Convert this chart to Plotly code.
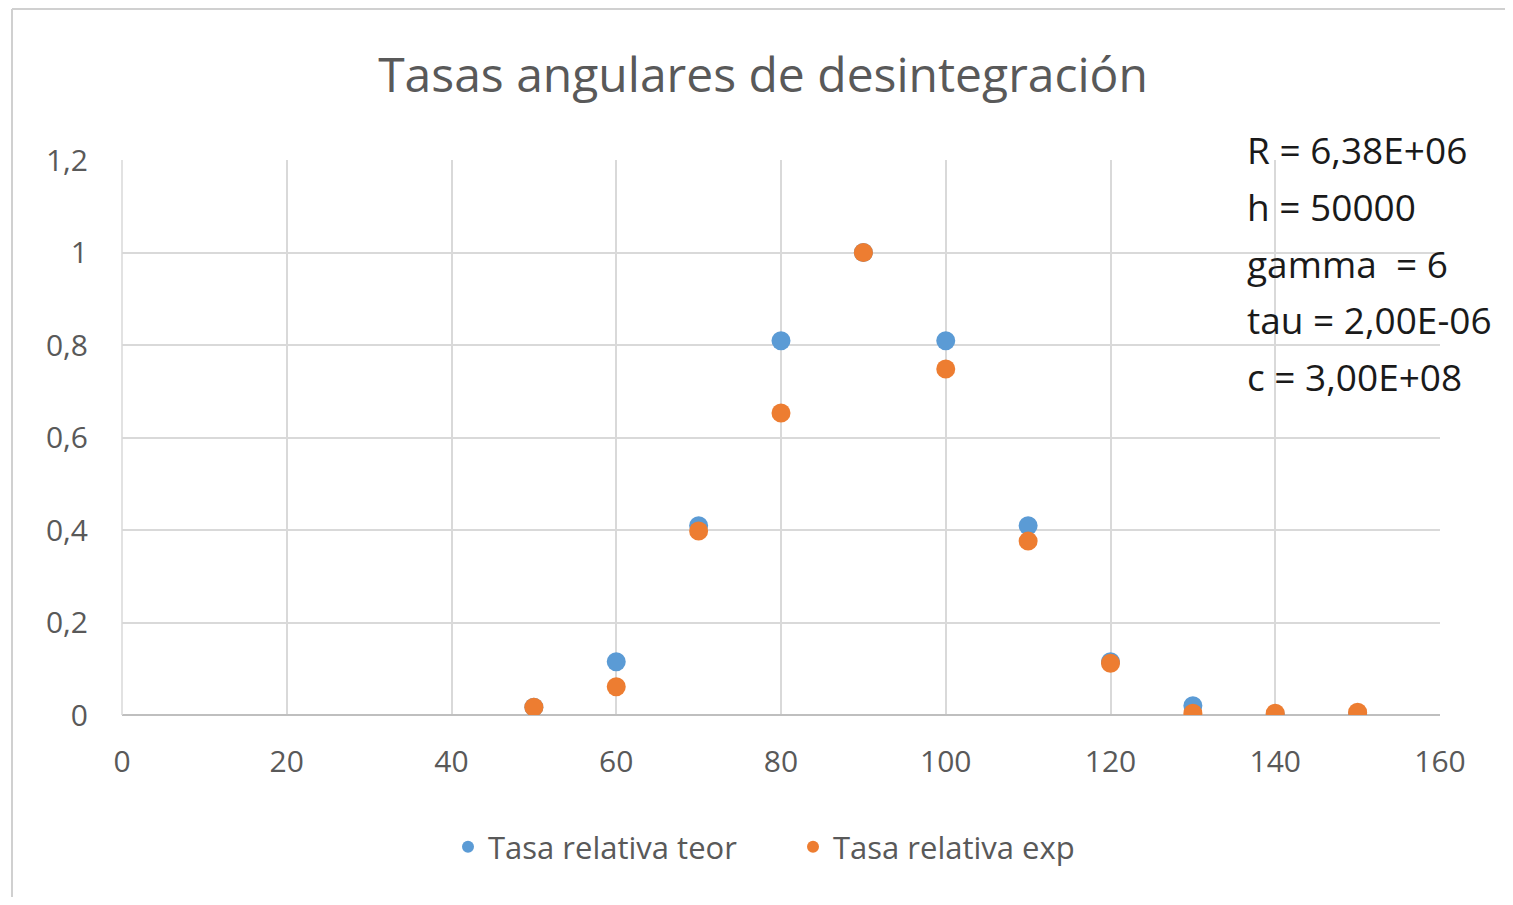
import plotly.graph_objects as go

angles = [50, 60, 70, 80, 90, 100, 110, 120, 130, 140, 150]
teor = [0.017, 0.115, 0.409, 0.809, 1.0, 0.809, 0.409, 0.115, 0.02, 0.001, 0.001]
exp_ = [0.017, 0.061, 0.398, 0.653, 1.0, 0.748, 0.376, 0.112, 0.004, 0.004, 0.006]
params = ["R = 6,38E+06", "h = 50000", "gamma  = 6", "tau = 2,00E-06", "c = 3,00E+08"]

BLUE = "#5B9BD5"
ORANGE = "#ED7D31"
GRID = "#D9D9D9"
TXT = "#595959"

OFF = 8  # page body margin
W, H = 1513 - 2 * OFF, 905 - 2 * OFF
L, T, Rr, B = 122 - OFF, 160 - OFF, 1440, 715
PW, PH = Rr - 122, B - 160

fig = go.Figure()
fig.add_trace(go.Scatter(x=angles, y=teor, mode="markers", name="Tasa relativa teor",
                         marker=dict(color=BLUE, size=19)))
fig.add_trace(go.Scatter(x=angles, y=exp_, mode="markers", name="Tasa relativa exp",
                         marker=dict(color=ORANGE, size=19)))

ann = []
for i, t in enumerate(params):
    ypx = 150 + i * 56.5
    ann.append(dict(text=t, xref="paper", yref="paper", x=(1245 - 122) / PW,
                    y=(715 - ypx) / PH, xanchor="left", yanchor="middle",
                    showarrow=False, font=dict(size=37, color="#1a1a1a", family="Open Sans")))

def px(xp):
    return (xp - 122) / PW

def py(yp):
    return (715 - yp) / PH

fig.update_layout(
    width=W, height=H,
    margin=dict(l=L, r=W + OFF - Rr, t=T, b=H + OFF - B),
    paper_bgcolor="white", plot_bgcolor="white",
    separators=",.",
    title=dict(text="Tasas angulares de desintegración", x=(763 - OFF) / W, xanchor="center",
               y=1 - (75 - OFF) / H, yanchor="middle",
               font=dict(size=48, color=TXT, family="Open Sans")),
    font=dict(family="Open Sans", color=TXT),
    xaxis=dict(range=[0, 160], dtick=20, showgrid=True, gridcolor=GRID, gridwidth=1.5,
               zeroline=False, showline=False, ticks="", tickfont=dict(size=30, color=TXT),
               ticklabelstandoff=26),
    yaxis=dict(range=[0, 1.2], dtick=0.2, showgrid=True, gridcolor=GRID, gridwidth=1.5,
               zeroline=True, zerolinecolor="#BFBFBF", zerolinewidth=2,
               showline=False, ticks="", tickfont=dict(size=30, color=TXT),
               ticklabelstandoff=33),
    legend=dict(orientation="h", x=px(448), xanchor="left", y=py(847), yanchor="middle",
                font=dict(size=31, color=TXT), itemsizing="constant", traceorder="normal",
                entrywidth=300, entrywidthmode="pixels"),
    annotations=ann,
    shapes=[
        dict(type="line", xref="paper", yref="paper", x0=0, x1=0, y0=0, y1=1,
             line=dict(color=GRID, width=1.5)),
        dict(type="line", xref="paper", yref="paper", x0=px(12), x1=px(12),
             y0=py(905), y1=py(9), line=dict(color="#D0D0D0", width=2)),
        dict(type="line", xref="paper", yref="paper", x0=px(12), x1=px(1513),
             y0=py(9), y1=py(9), line=dict(color="#D0D0D0", width=2)),
    ],
)

fig.write_html("out.html")
